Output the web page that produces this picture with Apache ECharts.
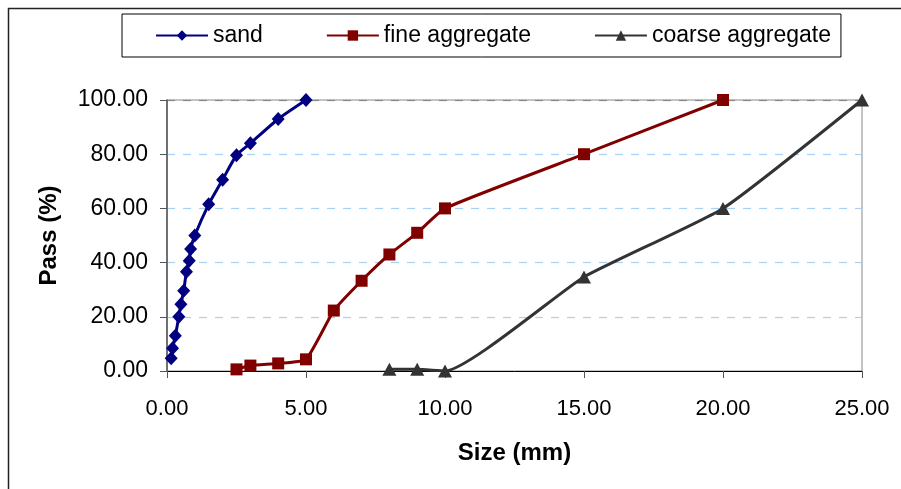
<!DOCTYPE html>
<html>
<head>
<meta charset="utf-8">
<script src="https://cdn.jsdelivr.net/npm/echarts@6/dist/echarts.min.js"></script>
<style>
html,body{margin:0;padding:0;background:#fff;}
#chart{width:901px;height:489px;}
</style>
</head>
<body>
<div id="chart"></div>
<script>
// Data
const seriesNames = ['sand', 'fine aggregate', 'coarse aggregate'];
const sandSize = [0.15, 0.2, 0.3, 0.425, 0.5, 0.6, 0.7, 0.8, 0.85, 1, 1.5, 2, 2.5, 3, 4, 5];
const sandPass = [4.7, 8.4, 13, 20, 24.6, 29.6, 36.6, 40.7, 45, 50, 61.5, 70.6, 79.6, 84, 93, 100];
const fineSize = [2.5, 3, 4, 5, 6, 7, 8, 9, 10, 15, 20];
const finePass = [0.6, 2, 2.8, 4.3, 22.3, 33.3, 43, 51, 60, 80, 100];
const coarseSize = [8, 9, 10, 15, 20, 25];
const coarsePass = [0.6, 0.6, 0, 34.7, 60, 100];
const xTicks = [0, 5, 10, 15, 20, 25];
const yTicks = [0, 20, 40, 60, 80, 100];

const pairs = (xs, ys) => xs.map((x, i) => [x, ys[i]]);

const chart = echarts.init(document.getElementById('chart'), null, {renderer: 'canvas'});
const font = 'Liberation Sans, Arial, sans-serif';

chart.setOption({
  animation: false,
  backgroundColor: '#fff',
  graphic: [{
    type: 'rect',
    shape: {x: 8.5, y: 8.5, width: 1000, height: 1000},
    style: {fill: 'none', stroke: '#222', lineWidth: 1.5},
    silent: true, z: -1
  }],
  legend: {
    left: 122, top: 14,
    orient: 'horizontal',
    borderColor: '#000', borderWidth: 1,
    padding: [10, 10, 10, 33],
    itemGap: 63,
    itemWidth: 52, itemHeight: 13,
    textStyle: {fontFamily: font, fontSize: 23, color: '#000'},
    data: seriesNames
  },
  grid: {
    left: 167, right: 39, top: 100, bottom: 118,
    show: true, borderColor: '#888', borderWidth: 1,
    containLabel: false
  },
  xAxis: {
    type: 'value', min: xTicks[0], max: xTicks[xTicks.length - 1], interval: 5,
    name: 'Size (mm)', nameLocation: 'middle', nameGap: 70,
    nameTextStyle: {fontFamily: font, fontSize: 24, fontWeight: 'bold', color: '#000'},
    axisLine: {show: true, lineStyle: {color: '#000', width: 1}},
    axisTick: {show: true, inside: false, length: 7, lineStyle: {color: '#555'}},
    axisLabel: {margin: 27, fontFamily: font, fontSize: 22, color: '#000',
      formatter: v => v.toFixed(2)},
    splitLine: {show: false}
  },
  yAxis: {
    type: 'value', min: yTicks[0], max: yTicks[yTicks.length - 1], interval: 20,
    name: 'Pass (%)', nameLocation: 'middle', nameGap: 106, nameRotate: 90,
    nameTextStyle: {fontFamily: font, fontSize: 24, fontWeight: 'bold', color: '#000'},
    axisLine: {show: true, lineStyle: {color: '#555', width: 1.5}},
    axisTick: {show: true, inside: false, length: 7, lineStyle: {color: '#555'}},
    axisLabel: {margin: 19, fontFamily: font, fontSize: 23, color: '#000',
      formatter: v => v.toFixed(2)},
    splitLine: {show: true, lineStyle: {
      color: ['rgba(0,0,0,0)', '#a7d0f6', '#a7d0f6', '#a7d0f6', '#a7d0f6', '#888'],
      type: [8, 8], width: 1.2}}
  },
  series: [
    {
      name: seriesNames[0], type: 'line', smooth: 0.2,
      data: pairs(sandSize, sandPass),
      symbol: 'diamond', symbolSize: [13, 14],
      lineStyle: {color: '#000080', width: 3},
      itemStyle: {color: '#000080'}
    },
    {
      name: seriesNames[1], type: 'line', smooth: 0.15,
      data: pairs(fineSize, finePass),
      symbol: 'rect', symbolSize: 12,
      lineStyle: {color: '#800000', width: 3},
      itemStyle: {color: '#800000'}
    },
    {
      name: seriesNames[2], type: 'line', smooth: 0.15,
      data: pairs(coarseSize, coarsePass),
      symbol: 'triangle', symbolSize: [14, 13],
      lineStyle: {color: '#333333', width: 3},
      itemStyle: {color: '#333333'}
    }
  ]
});
</script>
</body>
</html>
